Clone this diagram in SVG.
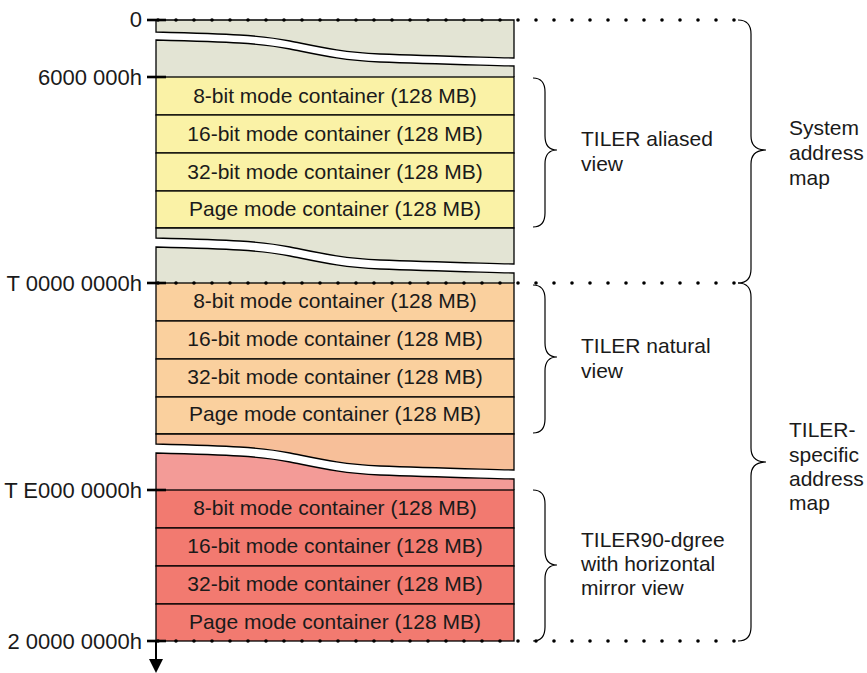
<svg xmlns="http://www.w3.org/2000/svg" width="867" height="673" viewBox="0 0 867 673">
<style>
text{font-family:"Liberation Sans",Arial,sans-serif;font-size:21px;fill:#1a1a1a}
.c{text-anchor:middle}
.e{text-anchor:end;font-size:22px}
.b{stroke:#000;stroke-width:1.3}
.g{fill:#E3E4D4}
.y{fill:#FAF2A6}
.o{fill:#FAD09E}
.s{fill:#F7BF99}
.p{fill:#F39B97}
.r{fill:#F27A70}
.dot{fill:none;stroke:#000;stroke-width:3.6;stroke-linecap:round;stroke-dasharray:0 18}
.tick{stroke:#000;stroke-width:2.6}
.br{fill:none;stroke:#000;stroke-width:1.2}
</style>
<rect width="867" height="673" fill="#fff"/>
<g id="aliased-region">
<path class="g b" d="M156,20 H514 V58 C480,57 430,56 380,54 C340,52 320,47 290,41 C260,35 230,34 156,32 Z"/>
<path class="g b" d="M156,77 V40 C230,42 260,43 290,49 C320,55 340,60 380,62 C430,64 480,65 514,66 V77"/>
<g id="aliased-8bit"><rect class="y b" x="156" y="77" width="358" height="38"/><text class="c" x="335" y="103">8-bit mode container (128 MB)</text></g>
<g id="aliased-16bit"><rect class="y b" x="156" y="115" width="358" height="38"/><text class="c" x="335" y="141">16-bit mode container (128 MB)</text></g>
<g id="aliased-32bit"><rect class="y b" x="156" y="153" width="358" height="38"/><text class="c" x="335" y="179">32-bit mode container (128 MB)</text></g>
<g id="aliased-page"><rect class="y b" x="156" y="191" width="358" height="37"/><text class="c" x="335" y="216">Page mode container (128 MB)</text></g>
<path class="g b" d="M156,228 H514 V264 C480,263 430,262 380,260 C340,258 320,253 290,247 C260,241 230,240 156,238 Z"/>
<path class="g b" d="M156,283 V247 C230,249 260,250 290,256 C320,262 340,267 380,269 C430,271 480,272 514,273 V283"/>
</g>
<g id="natural-region">
<g id="natural-8bit"><rect class="o b" x="156" y="283" width="358" height="38"/><text class="c" x="335" y="308">8-bit mode container (128 MB)</text></g>
<g id="natural-16bit"><rect class="o b" x="156" y="321" width="358" height="38"/><text class="c" x="335" y="346">16-bit mode container (128 MB)</text></g>
<g id="natural-32bit"><rect class="o b" x="156" y="359" width="358" height="38"/><text class="c" x="335" y="384">32-bit mode container (128 MB)</text></g>
<g id="natural-page"><rect class="o b" x="156" y="397" width="358" height="37"/><text class="c" x="335" y="421">Page mode container (128 MB)</text></g>
<path class="s b" d="M156,434 H514 V470 C480,469 430,468 380,466 C340,464 320,459 290,453 C260,447 230,446 156,444 Z"/>
</g>
<g id="mirror-region">
<path class="p b" d="M156,490 V453 C230,455 260,456 290,462 C320,468 340,473 380,475 C430,477 480,478 514,479 V490"/>
<g id="mirror-8bit"><rect class="r b" x="156" y="490" width="358" height="38"/><text class="c" x="335" y="515">8-bit mode container (128 MB)</text></g>
<g id="mirror-16bit"><rect class="r b" x="156" y="528" width="358" height="38"/><text class="c" x="335" y="553">16-bit mode container (128 MB)</text></g>
<g id="mirror-32bit"><rect class="r b" x="156" y="566" width="358" height="38"/><text class="c" x="335" y="591">32-bit mode container (128 MB)</text></g>
<g id="mirror-page"><rect class="r b" x="156" y="604" width="358" height="37"/><text class="c" x="335" y="629">Page mode container (128 MB)</text></g>
</g>
<g id="axis">
<line class="tick" x1="147" y1="20" x2="166" y2="20"/>
<line class="tick" x1="147" y1="77" x2="166" y2="77"/>
<line class="tick" x1="147" y1="283" x2="166" y2="283"/>
<line class="tick" x1="147" y1="490" x2="166" y2="490"/>
<line class="tick" x1="147" y1="641" x2="166" y2="641"/>
<line x1="156" y1="641" x2="156" y2="661" stroke="#000" stroke-width="2"/>
<polygon points="149,659 163,659 156,673" fill="#000"/>
<text class="e" x="142" y="27">0</text>
<text class="e" x="142" y="85">6000 000h</text>
<text class="e" x="142" y="291">T 0000 0000h</text>
<text class="e" x="142" y="498">T E000 0000h</text>
<text class="e" x="142" y="649">2 0000 0000h</text>
</g>
<g id="connectors">
<line class="dot" x1="158" y1="20" x2="742" y2="20"/>
<line class="dot" x1="158" y1="283" x2="742" y2="283"/>
<line class="dot" x1="158" y1="641" x2="742" y2="641"/>
<path class="br" d="M533,78 Q545,78 545,92 V136 Q545,150 557,150 Q545,150 545,164 V213 Q545,227 533,227"/>
<path class="br" d="M533,285 Q545,285 545,299 V343 Q545,357 557,357 Q545,357 545,371 V419 Q545,433 533,433"/>
<path class="br" d="M533,490 Q545,490 545,504 V551 Q545,565 557,565 Q545,565 545,579 V627 Q545,641 533,641"/>
<path class="br" d="M738,20 Q751,20 751,34 V136 Q751,150 766,150 Q751,150 751,164 V269 Q751,283 738,283"/>
<path class="br" d="M738,283 Q751,283 751,297 V448 Q751,462 766,462 Q751,462 751,476 V627 Q751,641 738,641"/>
</g>
<g id="labels">
<text x="581" y="146">TILER aliased</text>
<text x="581" y="171">view</text>
<text x="789" y="135">System</text>
<text x="789" y="160">address</text>
<text x="789" y="185">map</text>
<text x="581" y="353">TILER natural</text>
<text x="581" y="378">view</text>
<text x="789" y="437">TILER-</text>
<text x="789" y="462">specific</text>
<text x="789" y="486">address</text>
<text x="789" y="510">map</text>
<text x="581" y="547">TILER90-dgree</text>
<text x="581" y="571">with horizontal</text>
<text x="581" y="595">mirror view</text>
</g>
</svg>
